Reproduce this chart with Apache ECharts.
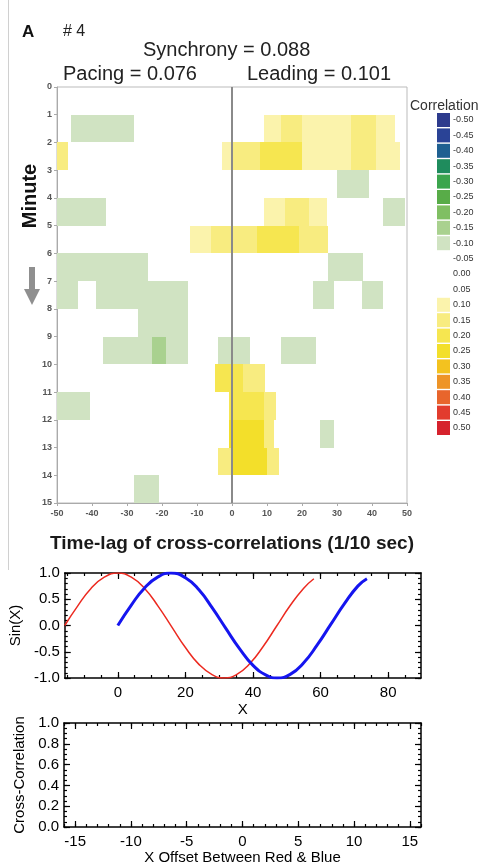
<!DOCTYPE html>
<html>
<head>
<meta charset="utf-8">
<script src="https://cdn.jsdelivr.net/npm/echarts@6/dist/echarts.min.js"></script>
<style>
  html, body { margin: 0; padding: 0; background: #fff; }
  #main { width: 489px; height: 867px; }
</style>
</head>
<body>
<div id="main"></div>
<script>
// heatmap cells: [minute, lag from, lag to, correlation]
var greenCells = [
  [1, -46, -28, -0.10],
  [3, 30, 39, -0.10],
  [4, -50, -36, -0.10],
  [4, 43, 49.5, -0.10],
  [6, -50, -24, -0.10],
  [6, 27.5, 37.5, -0.10],
  [7, -50, -44, -0.10],
  [7, -39, -12.5, -0.10],
  [7, 23, 29, -0.10],
  [7, 37, 43, -0.10],
  [8, -27, -12.5, -0.10],
  [9, -37, -23, -0.10],
  [9, -23, -19, -0.15],
  [9, -19, -12.5, -0.10],
  [9, -4, 5, -0.10],
  [9, 14, 24, -0.10],
  [11, -50, -40.5, -0.10],
  [12, 25, 29, -0.10],
  [14, -28, -21, -0.10]
];
var yellowCells = [
  [1, 9, 14, 0.10], [1, 14, 20, 0.15], [1, 20, 34, 0.10], [1, 34, 41, 0.15], [1, 41, 46.5, 0.10],
  [2, -50, -47, 0.15],
  [2, -3, 0, 0.10], [2, 0, 8, 0.15], [2, 8, 20, 0.20], [2, 20, 34, 0.10], [2, 34, 41, 0.15], [2, 41, 48, 0.10],
  [4, 9, 15, 0.10], [4, 15, 22, 0.15], [4, 22, 27, 0.10],
  [5, -12, -6, 0.10], [5, -6, 7, 0.15], [5, 7, 19, 0.20], [5, 19, 27.5, 0.15],
  [10, -5, 3, 0.20], [10, 3, 9.5, 0.15],
  [11, -1, 9, 0.20], [11, 9, 12.5, 0.15],
  [12, -1, 9, 0.25], [12, 9, 12, 0.15],
  [13, -4, 0, 0.15], [13, 0, 10, 0.25], [13, 10, 13.5, 0.15]
];
var legendValues = [-0.50, -0.45, -0.40, -0.35, -0.30, -0.25, -0.20, -0.15, -0.10, -0.05,
  0.00, 0.05, 0.10, 0.15, 0.20, 0.25, 0.30, 0.35, 0.40, 0.45, 0.50];
var legendColors = ['#2d3b8d', '#2a4396', '#1f6091', '#1f8c5d', '#3ba54d', '#58ac48', '#80bf63',
  '#a9d18f', '#d0e3c2', 'rgba(0,0,0,0)', 'rgba(0,0,0,0)', 'rgba(0,0,0,0)', '#fbf3ac', '#f8ec80',
  '#f6e650', '#f3df2a', '#f3c21f', '#ee9427', '#e8652c', '#e23c2e', '#d6222d'];

// sin curves
var redX = [-15.7, -12, -8, -4, 0, 4, 8, 12, 16, 20, 24, 28, 31.4, 35, 39, 43, 47, 51, 55, 58];
var redY = [0, 0.36, 0.70, 0.92, 1.0, 0.92, 0.70, 0.36, -0.03, -0.42, -0.74, -0.94, -1.0, -0.94, -0.73, -0.40, -0.01, 0.38, 0.71, 0.89];
var blueX = [0, 4, 8, 12, 15.7, 20, 24, 28, 32, 36, 40, 44, 47.1, 51, 55, 59, 63, 67, 71, 73.7];
var blueY = [0, 0.39, 0.72, 0.93, 1.0, 0.91, 0.68, 0.33, -0.06, -0.44, -0.76, -0.95, -1.0, -0.93, -0.71, -0.37, 0.02, 0.41, 0.75, 0.89];

var sinXTicks = [0, 20, 40, 60, 80];
var sinYTicks = [-1, -0.5, 0, 0.5, 1];
var offsetTicks = [-15, -10, -5, 0, 5, 10, 15];
var corrTicks = [0, 0.2, 0.4, 0.6, 0.8, 1.0];

function steps(from, to, step) {
  var out = [];
  for (var v = from; v <= to + 1e-9; v += step) out.push(Math.round(v * 1000) / 1000);
  return out;
}

function zip(xs, ys) {
  return xs.map(function (x, i) { return [x, ys[i]]; });
}

// IDL-style frame: labelled axis + minor ticks on one side, plain ticks on the other
function idlAxes(dim, grid, min, max, majors, minors, name, nameGap, labelFmt) {
  var sides = dim === 'x' ? ['bottom', 'top'] : ['left', 'right'];
  var tickStyle = { color: '#000', width: 1.2 };
  var base = { type: 'value', gridIndex: grid, min: min, max: max, splitLine: { show: false } };
  var axes = [];
  sides.forEach(function (side, k) {
    axes.push(Object.assign({}, base, {
      position: side,
      axisLine: { show: true, onZero: false, lineStyle: { color: '#000', width: 1.5 } },
      axisTick: { inside: true, length: 6, customValues: majors, lineStyle: tickStyle },
      axisLabel: k === 0
        ? { customValues: majors, color: '#000', fontSize: 15, margin: dim === 'x' ? 7 : 5, formatter: labelFmt }
        : { show: false },
      name: k === 0 ? name : '',
      nameLocation: 'middle',
      nameGap: nameGap,
      nameTextStyle: { color: '#000', fontSize: 15 }
    }));
    axes.push(Object.assign({}, base, {
      position: side,
      axisLine: { show: false, onZero: false },
      axisTick: { inside: true, length: 3, customValues: minors, lineStyle: tickStyle },
      axisLabel: { show: false }
    }));
  });
  return axes;
}

function oneDecimal(v) { return Number(v).toFixed(1); }

var chartDom = document.getElementById('main');
var myChart = echarts.init(chartDom);
var option;

var heatX = {
  type: 'value', gridIndex: 0, min: -50, max: 50, interval: 10,
  axisLine: { onZero: false, lineStyle: { color: '#aaa' } },
  axisTick: { length: 3, lineStyle: { color: '#aaa' } },
  axisLabel: { fontSize: 9, fontWeight: 'bold', color: '#555', margin: 6 },
  splitLine: { show: false },
  name: 'Time-lag of cross-correlations (1/10 sec)',
  nameLocation: 'middle', nameGap: 31,
  nameTextStyle: { fontSize: 19, fontWeight: 'bold', color: '#1a1a1a' }
};
var heatY = {
  type: 'value', gridIndex: 0, min: 0, max: 15, interval: 1, inverse: true,
  axisLine: { onZero: false, lineStyle: { color: '#aaa' } },
  axisTick: { length: 3, lineStyle: { color: '#aaa' } },
  axisLabel: { fontSize: 9, fontWeight: 'bold', color: '#555', margin: 5 },
  splitLine: { show: false }
};

option = {
  animation: false,
  textStyle: { fontFamily: 'Liberation Sans, Arial, sans-serif' },
  title: [
    { text: 'A', left: 17, top: 19, textStyle: { fontSize: 17, fontWeight: 'bold', color: '#111' } },
    { text: '# 4', left: 58, top: 19, textStyle: { fontSize: 16, fontWeight: 'normal', color: '#222' } },
    { text: 'Synchrony = 0.088', left: 138, top: 35, textStyle: { fontSize: 20, fontWeight: 'normal', color: '#222' } },
    { text: 'Pacing = 0.076', left: 58, top: 59, textStyle: { fontSize: 20, fontWeight: 'normal', color: '#222' } },
    { text: 'Leading = 0.101', left: 242, top: 59, textStyle: { fontSize: 20, fontWeight: 'normal', color: '#222' } },
    { text: 'Correlation', left: 405, top: 94, textStyle: { fontSize: 14, fontWeight: 'normal', color: '#333' } }
  ],
  grid: [
    { left: 57, right: 82, top: 87, bottom: 364, show: true, borderColor: '#bbb', borderWidth: 1 },
    { left: 64, right: 68, top: 573, bottom: 189 },
    { left: 64, right: 68, top: 723, bottom: 40 }
  ],
  xAxis: [heatX]
    .concat(idlAxes('x', 1, -15.7, 89.7, sinXTicks, steps(-15, 85, 5), 'X', 24))
    .concat(idlAxes('x', 2, -16, 16, offsetTicks, steps(-16, 16, 1), 'X Offset Between Red & Blue', 23)),
  yAxis: [heatY]
    .concat(idlAxes('y', 1, -1, 1, sinYTicks, steps(-1, 1, 0.1), 'Sin(X)', 41, oneDecimal))
    .concat(idlAxes('y', 2, 0, 1, corrTicks, steps(0, 1, 0.05), 'Cross-Correlation', 36, oneDecimal)),
  visualMap: {
    type: 'piecewise',
    seriesIndex: 0,
    dimension: 3,
    orient: 'vertical',
    inverse: true,
    left: 437,
    top: 113,
    padding: 0,
    itemWidth: 13,
    itemHeight: 14,
    itemGap: 1.4,
    textGap: 3,
    itemSymbol: 'rect',
    align: 'left',
    selectedMode: false,
    hoverLink: false,
    textStyle: { fontSize: 9, color: '#333' },
    pieces: legendValues.map(function (v, i) {
      return { gte: v - 0.025, lt: v + 0.025, label: v.toFixed(2), color: legendColors[i] };
    })
  },
  graphic: [
    { type: 'line', shape: { x1: 8.5, y1: 0, x2: 8.5, y2: 570 }, style: { stroke: '#d0d0d0', lineWidth: 1 } },
    {
      type: 'text', x: 30, y: 196, rotation: Math.PI / 2,
      style: { text: 'Minute', font: 'bold 20px Liberation Sans', fill: '#111', align: 'center', verticalAlign: 'middle' }
    },
    {
      type: 'polygon',
      shape: { points: [[29, 267], [35, 267], [35, 289], [40, 289], [32, 305], [24, 289], [29, 289]] },
      style: { fill: '#8f8f8f' }
    }
  ],
  series: [
    {
      type: 'custom',
      xAxisIndex: 0,
      yAxisIndex: 0,
      data: greenCells.concat(yellowCells),
      encode: { x: [1, 2], y: 0 },
      renderItem: function (params, api) {
        var a = api.coord([api.value(1), api.value(0)]);
        var b = api.coord([api.value(2), api.value(0) + 1]);
        var x0 = Math.round(Math.min(a[0], b[0]));
        var y0 = Math.round(Math.min(a[1], b[1]));
        var x1 = Math.round(Math.max(a[0], b[0]));
        var y1 = Math.round(Math.max(a[1], b[1]));
        return {
          type: 'rect',
          shape: { x: x0, y: y0, width: x1 - x0, height: y1 - y0 },
          style: { fill: api.visual('color') }
        };
      },
      markLine: {
        silent: true,
        symbol: 'none',
        label: { show: false },
        lineStyle: { color: '#8a8a8a', width: 2, type: 'solid' },
        data: [{ xAxis: 0 }]
      }
    },
    {
      type: 'line', xAxisIndex: 1, yAxisIndex: 1, data: zip(redX, redY),
      smooth: true, showSymbol: false, lineStyle: { color: '#ec2a20', width: 1.5 }
    },
    {
      type: 'line', xAxisIndex: 1, yAxisIndex: 1, data: zip(blueX, blueY),
      smooth: true, showSymbol: false, lineStyle: { color: '#1515ef', width: 3 }
    },
    { type: 'line', xAxisIndex: 5, yAxisIndex: 5, data: [] }
  ]
};
myChart.setOption(option);
</script>
</body>
</html>
